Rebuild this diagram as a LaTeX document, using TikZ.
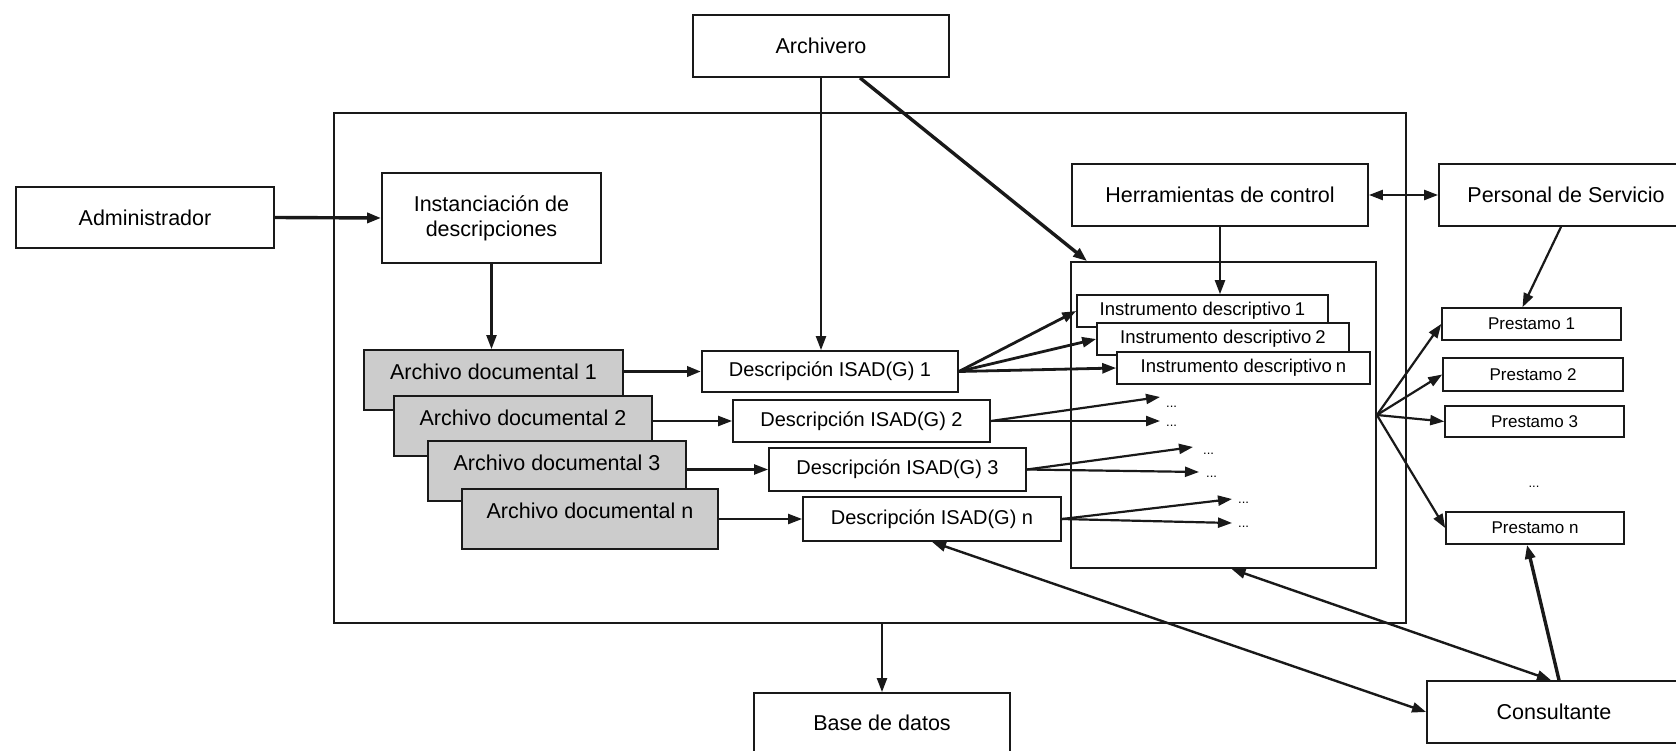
\documentclass[tikz,border=0pt]{standalone}
\usepackage{fontspec}
\setmainfont{Liberation Sans}
\usetikzlibrary{arrows.meta,calc}
\definecolor{docgray}{RGB}{204,204,204}
\definecolor{ink}{RGB}{25,25,25}
\begin{document}
\begin{tikzpicture}[x=1pt,y=-1pt,
  >={Triangle[length=14pt,width=10pt]},
  box/.style={draw=ink, line width=1.8pt, fill=white, inner sep=0pt, align=center,
    font=\fontsize{21.5}{25}\selectfont},
  frame/.style={draw=ink, line width=1.8pt, inner sep=0pt},
  docbox/.style={box, fill=docgray, text height=29pt, text depth=31pt},
  descbox/.style={box, font=\fontsize{20}{24}\selectfont},
  instbox/.style={box, font=\fontsize{18.5}{22}\selectfont, line width=1.6pt},
  prestbox/.style={box, font=\fontsize{17}{20}\selectfont, line width=1.6pt},
  dots/.style={inner sep=0pt, font=\fontsize{13}{14}\selectfont},
  arr/.style={->, draw=ink, line width=2.2pt},
  bigarr/.style={->, draw=ink, line width=3.4pt},
  darr/.style={<->, draw=ink, line width=2.4pt}
]
\useasboundingbox (0,0) rectangle (1676,751);

% containers
\node[frame, minimum width=1072pt, minimum height=510pt] (outer) at (870,368) {};
\node[frame, minimum width=305pt, minimum height=306pt] (inner) at (1223.5,415) {};

% actors and main boxes
\node[box, minimum width=256pt, minimum height=62pt] (arch) at (821,46) {Archivero};
\node[box, minimum width=258pt, minimum height=61pt] (adm) at (145,217.5) {Administrador};
\node[box, minimum width=219pt, minimum height=90pt] (inst) at (491.5,218)
  {Instanciación de\\descripciones};
\node[box, minimum width=296pt, minimum height=62pt] (herr) at (1220,195) {Herramientas de control};
\node[box, minimum width=254pt, minimum height=62pt] (pers) at (1566,195) {Personal de Servicio};
\node[box, minimum width=256pt, minimum height=60pt] (base) at (882,723) {Base de datos};
\node[box, minimum width=254pt, minimum height=62pt] (cons) at (1554,712) {Consultante};

% stacked documentary archives
\node[docbox, minimum width=259pt] (a1) at (493.5,380) {Archivo documental 1};
\node[docbox, minimum width=258pt] (a2) at (523,426) {Archivo documental 2};
\node[docbox, minimum width=258pt] (a3) at (557,471) {Archivo documental 3};
\node[docbox, minimum width=256pt] (an) at (590,519) {Archivo documental n};

% ISAD(G) descriptions
\node[descbox, minimum width=256pt, minimum height=41pt] (d1) at (830,371.5) {Descripción ISAD(G) 1};
\node[descbox, minimum width=257pt, minimum height=42pt] (d2) at (861.5,421) {Descripción ISAD(G) 2};
\node[descbox, minimum width=257pt, minimum height=43pt] (d3) at (897.5,469.5) {Descripción ISAD(G) 3};
\node[descbox, minimum width=258pt, minimum height=44pt] (dn) at (932,519) {Descripción ISAD(G) n};

% descriptive instruments
\node[instbox, minimum width=251pt, minimum height=32pt] (i1) at (1202.5,311) {Instrumento descriptivo\kern4pt 1};
\node[instbox, minimum width=252pt, minimum height=32pt] (i2) at (1223,339) {Instrumento descriptivo\kern4pt 2};
\node[instbox, minimum width=253pt, minimum height=32pt] (in) at (1243.5,368) {Instrumento descriptivo\kern4pt n};

% loans
\node[prestbox, minimum width=179pt, minimum height=32pt] (p1) at (1531.5,324) {Prestamo 1};
\node[prestbox, minimum width=180pt, minimum height=33pt] (p2) at (1533,374.5) {Prestamo 2};
\node[prestbox, minimum width=179pt, minimum height=31pt] (p3) at (1534.5,421.5) {Prestamo 3};
\node[dots] (pdots) at (1534,487) {...};
\node[prestbox, minimum width=178pt, minimum height=32pt] (pn) at (1535,528) {Prestamo n};

% free ends of the elided instrument arrows
\coordinate (t21) at (1160,397);
\coordinate (t22) at (1160,421);
\coordinate (t31) at (1193,447);
\coordinate (t32) at (1199,472);
\coordinate (t41) at (1232,499);
\coordinate (t42) at (1232,523);
\node[dots, anchor=base west] (k21) at (1166,407) {...};
\node[dots, anchor=base west] (k22) at (1166,426) {...};
\node[dots, anchor=base west] (k31) at (1203,454) {...};
\node[dots, anchor=base west] (k32) at (1206,477) {...};
\node[dots, anchor=base west] (k41) at (1238,503) {...};
\node[dots, anchor=base west] (k42) at (1238,527) {...};

% connectors
\draw[bigarr] (adm.east) -- (inst.west);
\draw[arr] (inst.south) -- (inst.south |- a1.north);
\draw[arr] (arch.south) -- (arch.south |- d1.north);
\draw[bigarr] ($(arch.south)+(39,0)$) -- ($(inner.north west)+(17,0)$);
\draw[arr] (herr.south) -- (herr.south |- i1.north);
\draw[darr] (herr.east) -- (pers.west);
\draw[arr] ($(pers.south)+(-5,0)$) -- ($(p1.north)+(-9,0)$);

\draw[bigarr] (a1.east |- d1.west) -- (d1.west);
\draw[arr] (a2.east |- d2.west) -- (d2.west);
\draw[arr] (a3.east |- d3.west) -- (d3.west);
\draw[arr] (an.east |- dn.west) -- (dn.west);

\draw[arr, line width=2.8pt] (d1.east) -- (i1.west);
\draw[arr, line width=2.8pt] (d1.east) -- (i2.west);
\draw[arr, line width=2.8pt] (d1.east) -- (in.west);
\draw[arr] (d2.east) -- (t21);
\draw[arr] (d2.east) -- (t22);
\draw[arr] (d3.east) -- (t31);
\draw[arr] (d3.east) -- (t32);
\draw[arr] (dn.east) -- (t41);
\draw[arr] (dn.east) -- (t42);

\draw[arr] (inner.east) -- (p1.west);
\draw[arr] (inner.east) -- (p2.west);
\draw[arr] (inner.east) -- (p3.west);
\draw[arr] (inner.east) -- (pn.west);

\draw[arr] (base.north |- outer.south) -- (base.north);
\draw[darr] (cons.west) -- (dn.south);
\draw[darr] ($(cons.north)+(-3,0)$) -- ($(inner.south)+(8,0)$);
\draw[bigarr] ($(cons.north)+(5,0)$) -- ($(pn.south)+(-8,0)$);
\end{tikzpicture}
\end{document}
